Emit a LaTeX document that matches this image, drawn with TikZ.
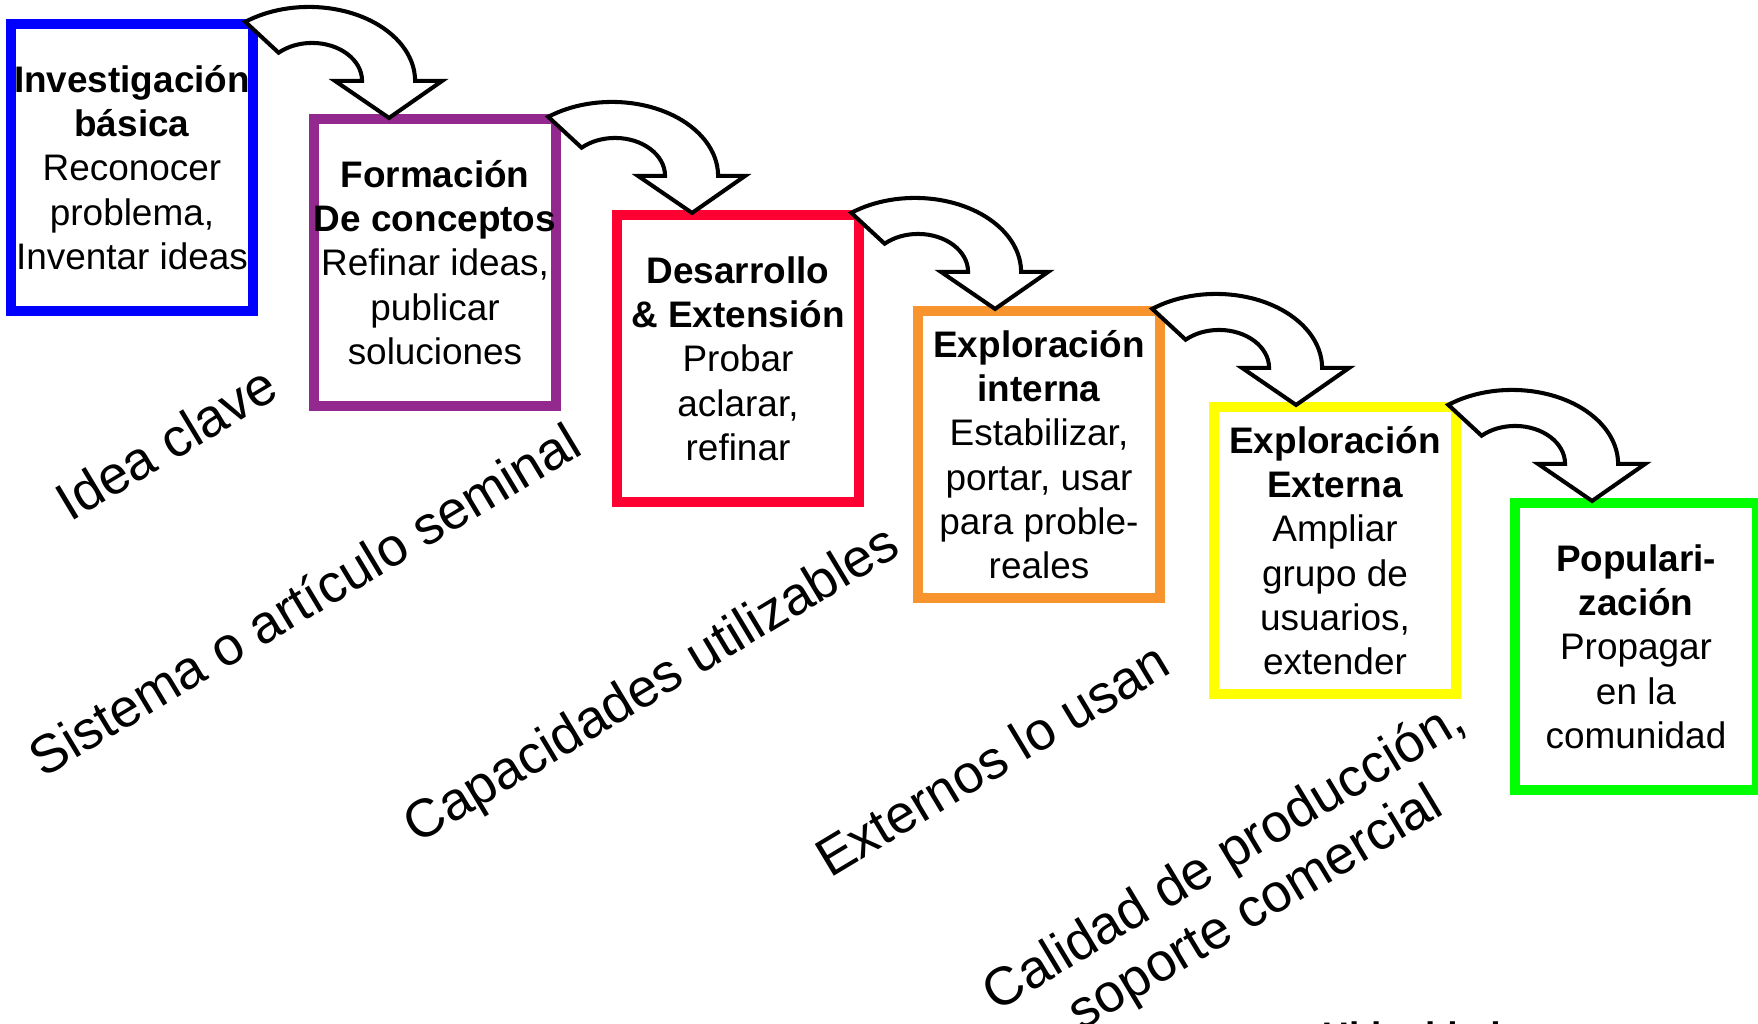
\documentclass[tikz,border=0pt]{standalone}
\usepackage{fontspec}
\setmainfont{Liberation Sans}
\usetikzlibrary{calc}

\definecolor{cBlue}{RGB}{0,0,255}
\definecolor{cPurple}{RGB}{147,40,142}
\definecolor{cRed}{RGB}{255,0,51}
\definecolor{cOrange}{RGB}{247,148,45}
\definecolor{cYellow}{RGB}{255,255,0}
\definecolor{cGreen}{RGB}{0,255,0}

\tikzset{
  stage/.style={draw=#1, line width=2.85pt, fill=white,
    minimum width=2.42cm, minimum height=2.87cm,
    inner sep=0pt, outer sep=0pt, align=center,
    font=\fontsize{10.5}{12.6}\selectfont},
  phase/.style={font=\fontsize{15.3}{17.2}\selectfont, rotate=31,
    inner sep=0pt, align=center},
  % curved block arrow, origin at the centre of its outer arc
  curvarrow/.pic={
    \draw[line width=1.15pt, fill=white, line join=miter]
      (127:106 and 74)
      arc[start angle=127, end angle=0, x radius=106, y radius=74]
      -- (133,0) -- (80,-37) -- (26,0) -- (53,0)
      arc[start angle=0, end angle=132, x radius=50, y radius=38]
      -- cycle;
  }
}

\begin{document}
\begin{tikzpicture}[x=0.01cm, y=0.01cm]
\useasboundingbox (0,0) rectangle (1758,-1023);

% stages
\node[stage=cBlue]   (b1) at (132,-167.5)
  {\textbf{Investigación}\\\textbf{básica}\\Reconocer\\problema,\\Inventar ideas};
\node[stage=cPurple] (b2) at (435,-262.5)
  {\textbf{Formación}\\\textbf{De conceptos}\\Refinar ideas,\\publicar\\soluciones};
\node[stage=cRed]    (b3) at (738,-358.5)
  {\textbf{Desarrollo}\\\textbf{\& Extensión}\\Probar\\aclarar,\\refinar};
\node[stage=cOrange] (b4) at (1039,-454.5)
  {\textbf{Exploración}\\\textbf{interna}\\Estabilizar,\\portar, usar\\para proble-\\reales};
\node[stage=cYellow] (b5) at (1335,-550.5)
  {\textbf{Exploración}\\\textbf{Externa}\\Ampliar\\grupo de\\usuarios,\\extender};
\node[stage=cGreen]  (b6) at (1636,-646.5)
  {\textbf{Populari-}\\\textbf{zación}\\Propagar\\en la\\comunidad};

% arrows from each stage to the next
\foreach \s in {b1,b2,b3,b4,b5}
  \pic at ($(\s.north east)+(56,-57)$) {curvarrow};

% milestone labels
\node[phase] (l1) at (166,-443) {Idea clave};
\node[phase] (l2) at (304,-599) {Sistema o artículo seminal};
\node[phase] (l3) at (653,-687) {Capacidades utilizables};
\node[phase] (l4) at (992,-759) {Externos lo usan};
\node[phase] (l5) at (1241,-884) {Calidad de producción,\\soporte comercial};
\node[font=\bfseries\fontsize{10.5}{12.6}\selectfont, anchor=base west,
      inner sep=0pt] (l6) at (1322,-1048) {Ubicuidad};
\end{tikzpicture}
\end{document}
